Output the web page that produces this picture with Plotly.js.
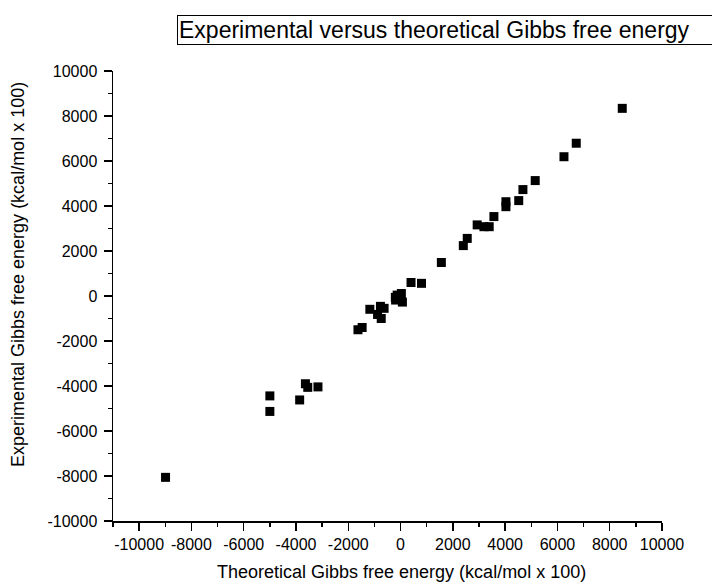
<!DOCTYPE html>
<html>
<head>
<meta charset="utf-8">
<script src="https://cdn.plot.ly/plotly-3.0.1.min.js"></script>
<style>html,body{margin:0;padding:0;background:#fff;}#chart{width:712px;height:588px;}</style>
</head>
<body>
<div id="chart"></div>
<script>
// Theoretical (x) vs experimental (y) Gibbs free energy, kcal/mol x 100
const theoretical = [8480, 6720, 6250, 5150, 4680, 4520, 4030, 4030, 3570, 2930, 3190, 3390, 2550, 2400, 1560, 400, 800, 30, -130, -190, 70, -200, -1175, -770, -630, -880, -740, -1630, -1470, -5000, -5000, -3860, -3640, -3550, -3160, -8990];
const experimental = [8340, 6790, 6190, 5130, 4730, 4240, 4190, 3970, 3530, 3160, 3080, 3080, 2560, 2240, 1490, 600, 563, 110, 40, -180, -270, -60, -591, -460, -548, -820, -1000, -1500, -1400, -4440, -5130, -4620, -3900, -4060, -4040, -8060];
const tickValues = [-10000, -8000, -6000, -4000, -2000, 0, 2000, 4000, 6000, 8000, 10000];
const tickLabels = ["-10000", "-8000", "-6000", "-4000", "-2000", "0", "2000", "4000", "6000", "8000", "10000"];
const chartTitle = "Experimental versus theoretical Gibbs free energy";
const xTitle = "Theoretical Gibbs free energy (kcal/mol x 100)";
const yTitle = "Experimental Gibbs free energy (kcal/mol x 100)";

const FONT = "Liberation Sans, Arial, sans-serif";
const axisCommon = {
  showline: true, linecolor: "#000", linewidth: 1.5,
  ticks: "outside", ticklen: 8, tickwidth: 1.5, tickcolor: "#000",
  tickmode: "array", tickvals: tickValues, ticktext: tickLabels,
  minor: {dtick: 1000, tick0: 0, ticks: "outside", ticklen: 4, tickwidth: 1.5, tickcolor: "#000", showgrid: false},
  showgrid: false, zeroline: false, mirror: false,
  tickfont: {family: FONT, size: 16, color: "#000"}
};

const trace = {
  x: theoretical, y: experimental, type: "scatter", mode: "markers",
  marker: {symbol: "square", size: 9, color: "#000", line: {width: 0}},
  cliponaxis: false, showlegend: false
};

// plot area: left 113, right 662, top 71, bottom 521
const PL = 113, PW = 549, PB = 521, PH = 450;
const px = v => (v - PL) / PW;
const py = v => (PB - v) / PH;

const layout = {
  width: 712, height: 588,
  margin: {l: 113, r: 50, t: 71, b: 67},
  paper_bgcolor: "#fff", plot_bgcolor: "#fff",
  font: {family: FONT, color: "#000"},
  xaxis: Object.assign({}, axisCommon, {range: [-11000, 10000]}),
  yaxis: Object.assign({}, axisCommon, {range: [-10000, 10000], ticklabelstandoff: 3}),
  annotations: [{
    text: chartTitle,
    xref: "paper", yref: "paper", x: px(177), y: py(29.5),
    xanchor: "left", yanchor: "middle", align: "left",
    showarrow: false, width: 570,
    font: {family: FONT, size: 23, color: "#000"},
    bordercolor: "#000", borderwidth: 1, borderpad: 1, bgcolor: "#fff"
  }, {
    text: xTitle,
    xref: "paper", yref: "paper", x: px(401), y: py(572),
    xanchor: "center", yanchor: "middle", showarrow: false,
    font: {family: FONT, size: 18, color: "#000"}
  }, {
    text: yTitle,
    xref: "paper", yref: "paper", x: px(18), y: py(275),
    xanchor: "center", yanchor: "middle", showarrow: false, textangle: -90,
    font: {family: FONT, size: 18, color: "#000"}
  }]
};

Plotly.newPlot("chart", [trace], layout, {displayModeBar: false, staticPlot: true});
</script>
</body>
</html>
